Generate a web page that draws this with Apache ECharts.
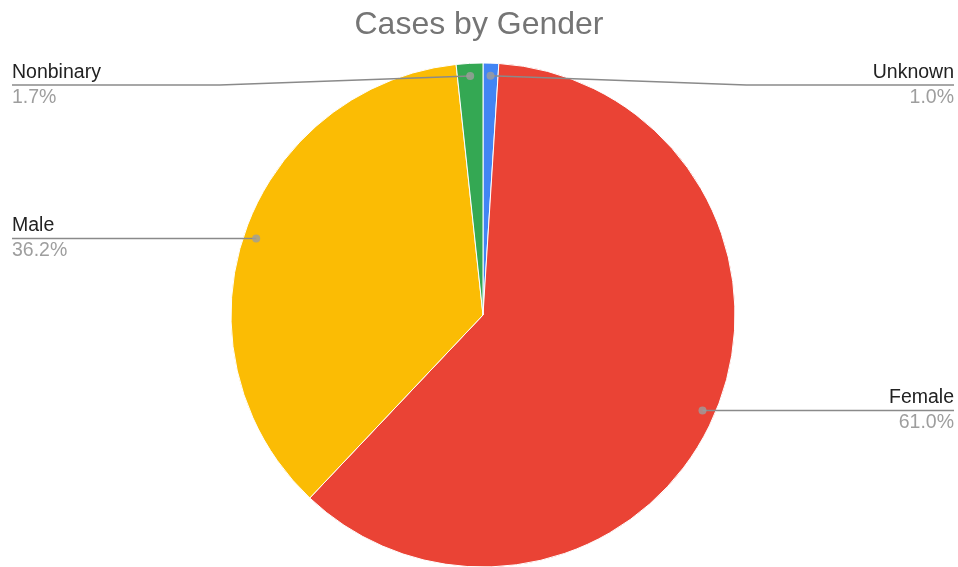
<!DOCTYPE html>
<html>
<head>
<meta charset="utf-8">
<script src="https://cdn.jsdelivr.net/npm/echarts@6/dist/echarts.min.js"></script>
<style>
html,body{margin:0;padding:0;background:#fff;}
#c{width:958px;height:567px;}
</style>
</head>
<body>
<div id="c"></div>
<script>
const title = 'Cases by Gender';
const categories = ['Unknown', 'Female', 'Male', 'Nonbinary'];
const values = [1.0, 61.0, 36.2, 1.7];
const colors = ['#4285F4', '#EA4335', '#FBBC04', '#34A853'];

const FONT = '"Liberation Sans", Arial, sans-serif';
const CX = 483, CY = 315, R = 252, DOT_R = 0.95;
const chart = echarts.init(document.getElementById('c'));
const total = values.reduce((a, b) => a + b, 0);

// mid-angle of each slice (in value units) for the dots
let cum = 0;
const dots = values.map(v => { const m = cum + v / 2; cum += v; return [DOT_R, m]; });

const pieData = categories.map((n, i) => ({ name: n, value: values[i], itemStyle: { color: colors[i] } }));

chart.setOption({
  animation: false,
  backgroundColor: '#fff',
  title: {
    text: title, left: 'center', top: 4,
    textStyle: { fontFamily: FONT, fontSize: 32, fontWeight: 'normal', color: '#757575' }
  },
  polar: { center: [CX, CY], radius: R },
  angleAxis: {
    type: 'value', min: 0, max: total, startAngle: 90, clockwise: true,
    axisLine: { show: false }, axisTick: { show: false }, axisLabel: { show: false }, splitLine: { show: false }
  },
  radiusAxis: {
    type: 'value', min: 0, max: 1,
    axisLine: { show: false }, axisTick: { show: false }, axisLabel: { show: false }, splitLine: { show: false }
  },
  series: [
    {
      type: 'pie', center: [CX, CY], radius: R, startAngle: 90, clockwise: true,
      z: 2, silent: true, label: { show: false }, labelLine: { show: false },
      itemStyle: { borderColor: '#fff', borderWidth: 1 },
      data: pieData
    },
    {
      type: 'pie', center: [CX, CY], radius: R * DOT_R, startAngle: 90, clockwise: true,
      z: 5, silent: true,
      itemStyle: { color: 'rgba(0,0,0,0)' },
      emphasis: { disabled: true },
      label: {
        show: true, alignTo: 'edge', edgeDistance: 12,
        formatter: p => '{n|' + p.name + '}\n{p|' + p.value.toFixed(1) + '%}',
        rich: {
          n: { fontFamily: FONT, fontSize: 19.5, color: '#222222', lineHeight: 25 },
          p: { fontFamily: FONT, fontSize: 19.5, color: '#9e9e9e', lineHeight: 25 }
        }
      },
      labelLine: { show: true, length: 5, length2: 10, smooth: false, lineStyle: { color: '#8a8a8a', width: 1.5 } },
      labelLayout: function (p) {
        const W = chart.getWidth();
        const rect = p.labelRect;
        const pts = p.labelLinePoints;
        const start = pts[0];
        const isLeft = rect.x + rect.width / 2 < W / 2;
        const y = Math.max(start[1], 85);
        const endX = isLeft ? 12 : W - 4;
        const bendX = isLeft ? Math.min(start[0], CX - R * 1.045) : Math.max(start[0], CX + R * 1.045);
        return {
          x: endX, y: y,
          align: isLeft ? 'left' : 'right',
          verticalAlign: 'middle',
          labelLinePoints: [start, [bendX, y], [endX, y]]
        };
      },
      data: categories.map((n, i) => ({ name: n, value: values[i] }))
    },
    {
      type: 'scatter', coordinateSystem: 'polar', z: 10, silent: true,
      symbol: 'circle', symbolSize: 8,
      itemStyle: { color: '#9e9e9e' },
      data: dots
    }
  ]
});
</script>
</body>
</html>
